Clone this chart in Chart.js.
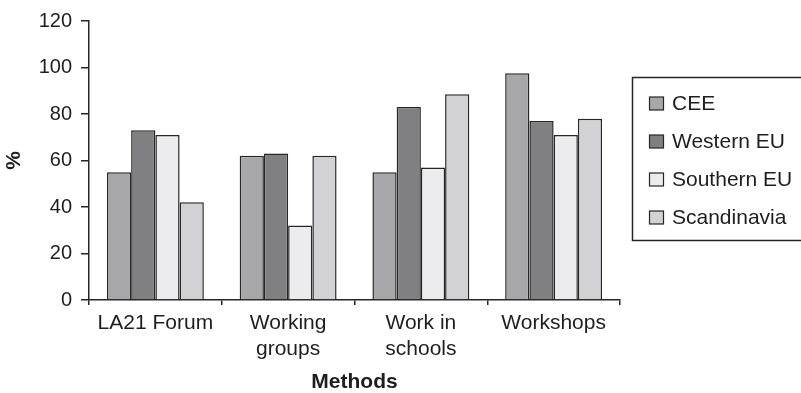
<!DOCTYPE html>
<html>
<head>
<meta charset="utf-8">
<title>Methods by region</title>
<script src="https://cdn.jsdelivr.net/npm/chart.js@4"></script>
<style>
  html, body { margin: 0; padding: 0; background: #fff; }
  #wrap { width: 801px; height: 393px; }
</style>
</head>
<body>
<div id="wrap"><canvas id="methods-chart" width="801" height="393"></canvas></div>
<script>
const methods = [['LA21 Forum'], ['Working', 'groups'], ['Work in', 'schools'], ['Workshops']];
const regions = ['CEE', 'Western EU', 'Southern EU', 'Scandinavia'];
const ceeValues = [55, 62, 55, 97.5];
const westernValues = [73, 63, 83, 77];
const southernValues = [71, 32, 57, 71];
const scandinaviaValues = [42, 62, 88.5, 78];
const yTicks = [0, 20, 40, 60, 80, 100, 120];

const fills = ['#a8a8ab', '#808083', '#ececee', '#d2d2d4'];
const edge = '#262626';
const font = 'Liberation Sans, Arial, Helvetica, sans-serif';

// boxed legend on the right, drawn from the datasets
const boxLegend = {
    id: 'boxLegend',
    afterDraw(chart) {
        const ctx = chart.ctx;
        ctx.save();
        ctx.strokeStyle = edge;
        ctx.lineWidth = 1.5;
        ctx.strokeRect(632.5, 77.5, 180, 163);
        ctx.font = '21px ' + font;
        ctx.textBaseline = 'middle';
        chart.data.datasets.forEach((ds, i) => {
            const cy = 103.5 + i * 38;
            ctx.fillStyle = ds.backgroundColor;
            ctx.fillRect(649.5, cy - 6.5, 14, 13);
            ctx.lineWidth = 1.2;
            ctx.strokeRect(649.5, cy - 6.5, 14, 13);
            ctx.fillStyle = '#1e1e1e';
            ctx.fillText(ds.label, 672, cy + 1);
        });
        ctx.restore();
    }
};

const seriesValues = [ceeValues, westernValues, southernValues, scandinaviaValues];

const chart = new Chart(document.getElementById('methods-chart'), {
    type: 'bar',
    data: {
        labels: methods,
        datasets: regions.map((name, i) => ({
            label: name,
            data: seriesValues[i],
            backgroundColor: fills[i],
            borderColor: edge,
            borderWidth: 1.5,
            borderSkipped: 'bottom',
            barPercentage: 1,
            categoryPercentage: 0.73
        }))
    },
    options: {
        responsive: false,
        animation: false,
        layout: { padding: { top: 19, right: 181, left: 0, bottom: 0 } },
        plugins: {
            legend: { display: false },
            tooltip: { enabled: false }
        },
        scales: {
            x: {
                afterFit(scale) { scale.height = 93; },
                grid: {
                    display: true,
                    drawOnChartArea: false,
                    offset: true,
                    tickLength: 5,
                    color: edge,
                    lineWidth: 1.5
                },
                border: { color: edge, width: 1.5 },
                ticks: {
                    color: '#1e1e1e',
                    padding: 6,
                    maxRotation: 0,
                    font: { family: font, size: 21, lineHeight: 1.2 }
                },
                title: {
                    display: true,
                    text: 'Methods',
                    color: '#1e1e1e',
                    padding: 0,
                    font: { family: font, size: 21, weight: 'bold', lineHeight: 1 }
                }
            },
            y: {
                min: 0,
                max: 120,
                afterFit(scale) { scale.width = 89; },
                afterBuildTicks(scale) { scale.ticks = yTicks.map(v => ({ value: v })); },
                grid: {
                    display: true,
                    drawOnChartArea: false,
                    tickLength: 8,
                    color: edge,
                    lineWidth: 1.5
                },
                border: { color: edge, width: 1.5 },
                ticks: {
                    color: '#1e1e1e',
                    padding: 9,
                    font: { family: font, size: 20 }
                },
                title: {
                    display: true,
                    text: '%',
                    color: '#1e1e1e',
                    padding: { top: 4, bottom: 0 },
                    font: { family: font, size: 21, weight: 'bold', lineHeight: 1 }
                }
            }
        }
    },
    plugins: [boxLegend]
});
</script>
</body>
</html>
